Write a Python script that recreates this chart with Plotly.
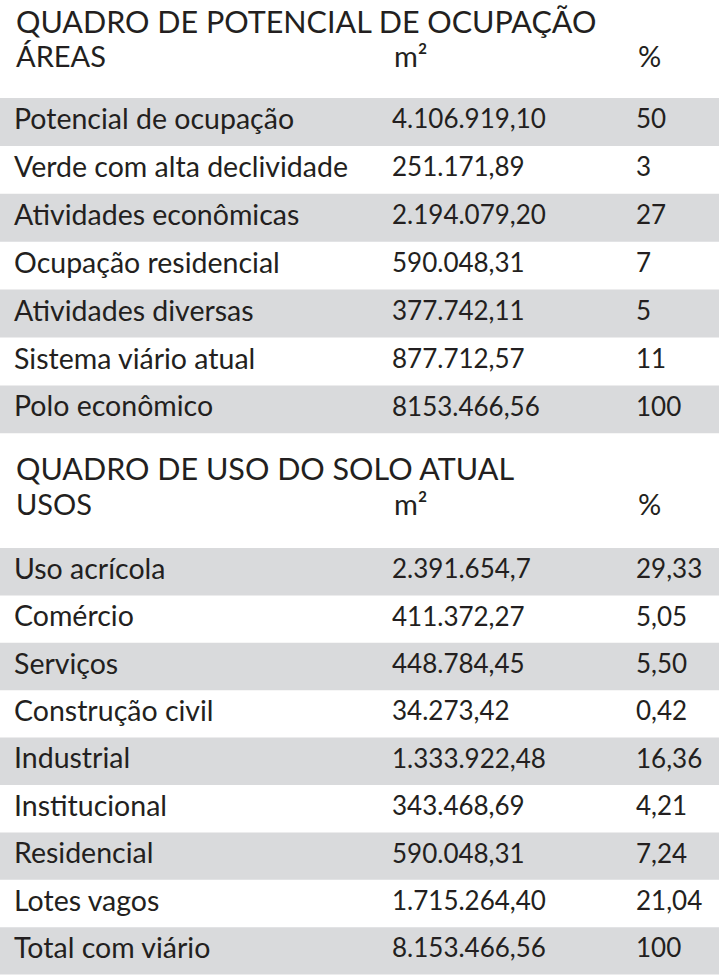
import plotly.graph_objects as go

# ---- Data ----
title1 = "QUADRO DE POTENCIAL DE OCUPAÇÃO"
header1 = ["ÁREAS", "m²", "%"]
areas = ["Potencial de ocupação", "Verde com alta declividade", "Atividades econômicas",
         "Ocupação residencial", "Atividades diversas", "Sistema viário atual", "Polo econômico"]
areas_m2 = ["4.106.919,10", "251.171,89", "2.194.079,20", "590.048,31", "377.742,11",
            "877.712,57", "8153.466,56"]
areas_pct = ["50", "3", "27", "7", "5", "11", "100"]

title2 = "QUADRO DE USO DO SOLO ATUAL"
header2 = ["USOS", "m²", "%"]
usos = ["Uso acrícola", "Comércio", "Serviços", "Construção civil", "Industrial",
        "Institucional", "Residencial", "Lotes vagos", "Total com viário"]
usos_m2 = ["2.391.654,7", "411.372,27", "448.784,45", "34.273,42", "1.333.922,48",
           "343.468,69", "590.048,31", "1.715.264,40", "8.153.466,56"]
usos_pct = ["29,33", "5,05", "5,50", "0,42", "16,36", "4,21", "7,24", "21,04", "100"]

# ---- Layout parameters ----
W, H = 724, 977
FONT = "Lato"
TXT = "#231f20"
BAND = "#d9dadc"
COL_X = [14, 392, 636]
BAND_X = [0, 719]
SIZE_TITLE = 30.5
SIZE_HEAD = 29
SIZE_LABEL = 28.5
SIZE_NUM = 26

fig = go.Figure()
shapes = []
annotations = []


def add_table(title, header, labels, m2, pct, title_y, header_y, top, rh):
    annotations.append(dict(x=COL_X[0], y=title_y, text=title, xref="x", yref="y",
                            xanchor="left", yanchor="middle", showarrow=False,
                            font=dict(family=FONT, size=SIZE_TITLE, color=TXT)))
    for cx, h in zip(COL_X, header):
        annotations.append(dict(x=cx, y=header_y, text=h, xref="x", yref="y",
                                xanchor="left", yanchor="middle", showarrow=False,
                                font=dict(family=FONT, size=SIZE_HEAD, color=TXT)))
    for i in range(len(labels)):
        y0 = top + i * rh
        if i % 2 == 0:
            shapes.append(dict(type="rect", xref="x", yref="y", x0=BAND_X[0], x1=BAND_X[1],
                               y0=y0, y1=y0 + rh, fillcolor=BAND, line=dict(width=0),
                               layer="below"))
    ys = [top + (i + 0.5) * rh for i in range(len(labels))]
    for cx, col, sz in zip(COL_X, [labels, m2, pct], [SIZE_LABEL, SIZE_NUM, SIZE_NUM]):
        fig.add_trace(go.Scatter(x=[cx] * len(col), y=ys, text=col, mode="text",
                                 textposition="middle right", hoverinfo="skip",
                                 textfont=dict(family=FONT, size=sz, color=TXT),
                                 showlegend=False))


add_table(title1, header1, areas, areas_m2, areas_pct, 21, 55, 98, 47.9)
add_table(title2, header2, usos, usos_m2, usos_pct, 468, 503, 548, 47.4)

fig.update_layout(
    width=W, height=H, margin=dict(l=0, r=0, t=0, b=0),
    paper_bgcolor="white", plot_bgcolor="white",
    xaxis=dict(range=[0, W], visible=False, fixedrange=True),
    yaxis=dict(range=[H, 0], visible=False, fixedrange=True),
    shapes=shapes, annotations=annotations,
)

fig.write_html(
    "out.html",
    config={"displayModeBar": False, "staticPlot": True},
    post_script="document.body.style.margin='0';document.body.style.overflow='hidden';",
)
